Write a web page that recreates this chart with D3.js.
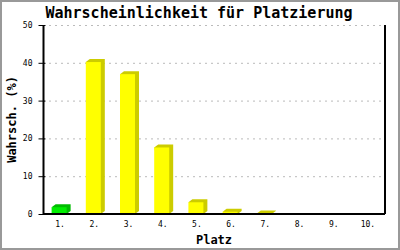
<!DOCTYPE html>
<html lang="de">
<head>
<meta charset="UTF-8">
<title>Wahrscheinlichkeit für Platzierung</title>
<script src="https://cdn.jsdelivr.net/npm/d3@7"></script>
<style>
  body { margin: 0; background: #fff; }
  text { font-family: "DejaVu Sans Mono", "Liberation Mono", monospace; }
</style>
</head>
<body>
<script>

    const places = ["1.", "2.", "3.", "4.", "5.", "6.", "7.", "8.", "9.", "10."];
    const chances = [1.8, 40.2, 37.0, 17.6, 3.1, 0.6, 0.15, 0, 0, 0];
    const highlight = ["1."];
    const yTicks = [0, 10, 20, 30, 40, 50];

    const width = 400, height = 250;
    const margin = {top: 25, right: 15, bottom: 36, left: 43};
    const dx = 4, dy = 3, barW = 15;

    const svg = d3.select("body").append("svg")
        .attr("width", width).attr("height", height);

    svg.append("rect")
        .attr("x", 1).attr("y", 1)
        .attr("width", width - 2).attr("height", height - 2)
        .attr("fill", "#fff").attr("stroke", "#999").attr("stroke-width", 2);

    const x = d3.scaleBand().domain(places)
        .range([margin.left, width - margin.right]);
    const y = d3.scaleLinear().domain([0, 50])
        .range([height - margin.bottom, margin.top]);

    // grid
    svg.append("g")
        .selectAll("line")
        .data(yTicks.filter(d => d > 0))
        .join("line")
        .attr("x1", margin.left).attr("x2", width - margin.right)
        .attr("y1", d => y(d) + 0.5).attr("y2", d => y(d) + 0.5)
        .attr("stroke", "#bbb").attr("stroke-dasharray", "2,4");

    // bars
    const bars = svg.append("g")
        .selectAll("g")
        .data(places.map((p, i) => ({p, v: chances[i]})).filter(d => d.v > 0))
        .join("g");

    const col = d => highlight.includes(d.p)
        ? {front: "#00ee00", dark: "#00bb00"}
        : {front: "#ffff00", dark: "#cccc00"};
    const x0 = d => x(d.p) + x.bandwidth() / 2 - barW / 2 - 1;

    bars.append("path")
        .attr("fill", d => col(d).dark)
        .attr("d", d => {
            const a = x0(d), b = a + barW, t = y(d.v), z = y(0);
            return `M${a},${t}L${a + dx},${t - dy}L${b + dx},${t - dy}L${b + dx},${z - dy}L${b},${z}Z`;
        });

    bars.append("rect")
        .attr("fill", d => col(d).front)
        .attr("x", x0)
        .attr("y", d => y(d.v))
        .attr("width", barW)
        .attr("height", d => y(0) - y(d.v));

    // axes
    const yAxis = svg.append("g")
        .attr("transform", `translate(${margin.left + 0.5},0)`)
        .call(d3.axisLeft(y).tickValues(yTicks).tickSize(5).tickPadding(6));
    yAxis.select(".domain").attr("stroke", "#000").attr("stroke-width", 2)
        .attr("d", `M0,${y(50)}V${y(0)}`);
    yAxis.selectAll(".tick line").attr("stroke", "#000").attr("x2", -5).attr("x1", 2);
    yAxis.selectAll("text").attr("font-size", 8).attr("fill", "#000")
        .attr("font-family", "DejaVu Sans Mono, monospace");

    svg.append("line")
        .attr("x1", width - margin.right).attr("x2", width - margin.right)
        .attr("y1", y(50)).attr("y2", y(0))
        .attr("stroke", "#000").attr("stroke-width", 2);

    const xAxis = svg.append("g")
        .attr("transform", `translate(0,${y(0)})`)
        .call(d3.axisBottom(x).tickSize(0).tickPadding(7));
    xAxis.select(".domain").attr("stroke", "#000").attr("stroke-width", 2)
        .attr("d", `M${margin.left},0H${width - margin.right}`);
    xAxis.selectAll("text").attr("font-size", 8).attr("fill", "#000")
        .attr("font-family", "DejaVu Sans Mono, monospace");

    // titles
    svg.append("text")
        .attr("x", 199).attr("y", 18)
        .attr("text-anchor", "middle")
        .attr("font-size", 15).attr("font-weight", "bold")
        .text("Wahrscheinlichkeit für Platzierung");

    svg.append("text")
        .attr("x", 214).attr("y", 244)
        .attr("text-anchor", "middle")
        .attr("font-size", 12).attr("font-weight", "bold")
        .text("Platz");

    svg.append("text")
        .attr("transform", `translate(16,${(y(0) + y(50)) / 2}) rotate(-90)`)
        .attr("text-anchor", "middle")
        .attr("font-size", 12).attr("font-weight", "bold")
        .text("Wahrsch. (%)");

</script>
</body>
</html>
